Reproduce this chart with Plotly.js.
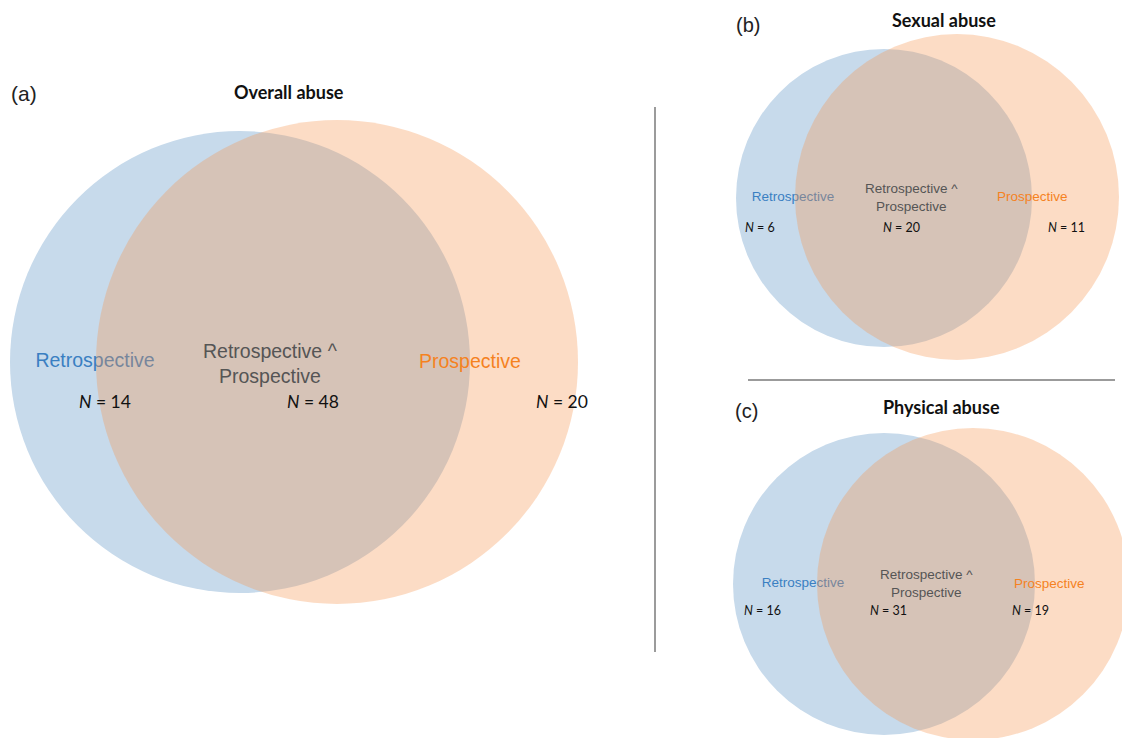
<!DOCTYPE html>
<html>
<head>
<meta charset="utf-8">
<script src="https://cdn.plot.ly/plotly-3.0.1.min.js"></script>
<style>
html,body{margin:0;padding:0;background:#fff;}
#chart{width:1122px;height:738px;}
</style>
</head>
<body>
<div id="chart"></div>
<script>
// ---- data ----
const panelTags = ['(a)', '(b)', '(c)'];
const panelTitles = ['Overall abuse', 'Sexual abuse', 'Physical abuse'];
const setLabels = ['Retrospective', 'Retrospective ^<br>Prospective', 'Prospective'];
const retroOnly = [14, 6, 16];
const bothCount = [48, 20, 31];
const prospOnly = [20, 11, 19];

// ---- layout geometry (pixel-like coordinates on hidden axes) ----
const geom = [
  { // (a)
    blue: {cx: 240, cy: 362, rx: 230, ry: 231},
    orange: {cx: 337, cy: 362, rx: 241, ry: 242},
    tag: [24, 93], title: [289, 92],
    lab: [[95, 362], [270, 363], [470, 361]],
    num: [[105, 401], [313, 401], [562, 401]],
    labSize: 19.5, numSize: 17.5, titleSize: 18, tagSize: 21
  },
  { // (b)
    blue: {cx: 884, cy: 198, rx: 148, ry: 149},
    orange: {cx: 957, cy: 197, rx: 162, ry: 163},
    tag: [748, 25], title: [944, 20],
    lab: [[793, 198], [911, 197], [1032, 196]],
    num: [[760, 227], [901, 227], [1066, 227]],
    labSize: 13.5, numSize: 12.5, titleSize: 18, tagSize: 20
  },
  { // (c)
    blue: {cx: 884, cy: 584, rx: 151, ry: 151},
    orange: {cx: 973, cy: 584, rx: 156, ry: 156},
    tag: [746, 411], title: [941, 407],
    lab: [[803, 584], [926, 583], [1049, 583]],
    num: [[762, 610], [888, 610], [1030, 610]],
    labSize: 13.5, numSize: 12.5, titleSize: 18, tagSize: 20
  }
];

const BLUE_FILL = 'rgb(199,218,235)';
const ORANGE_FILL = 'rgba(247,150,80,0.33)';
const BLUE_TXT = '#3a7fc2';
const ORANGE_TXT = '#f5821f';
const GRAY_TXT = '#555555';
const SANS = 'Liberation Sans, Arial, sans-serif';
const CAL = 'Lato, Carlito, sans-serif';

const shapes = [];
const annotations = [];
const traces = [];

geom.forEach((g, i) => {
  shapes.push({type: 'circle', xref: 'x', yref: 'y', layer: 'below',
    x0: g.blue.cx - g.blue.rx, x1: g.blue.cx + g.blue.rx,
    y0: g.blue.cy - g.blue.ry, y1: g.blue.cy + g.blue.ry,
    fillcolor: BLUE_FILL, line: {width: 0}});
  shapes.push({type: 'circle', xref: 'x', yref: 'y', layer: 'above',
    x0: g.orange.cx - g.orange.rx, x1: g.orange.cx + g.orange.rx,
    y0: g.orange.cy - g.orange.ry, y1: g.orange.cy + g.orange.ry,
    fillcolor: ORANGE_FILL, line: {width: 0}});

  // Retrospective label drawn as trace text (sits beneath the translucent orange circle)
  traces.push({type: 'scatter', mode: 'text', x: [g.lab[0][0]], y: [g.lab[0][1]],
    text: [setLabels[0]], textposition: 'middle center',
    textfont: {family: SANS, size: g.labSize, color: BLUE_TXT},
    hoverinfo: 'skip', showlegend: false, cliponaxis: false});

  annotations.push({x: g.lab[1][0], y: g.lab[1][1], xref: 'x', yref: 'y',
    text: setLabels[1], showarrow: false, xanchor: 'center', yanchor: 'middle',
    font: {family: SANS, size: g.labSize, color: GRAY_TXT}, align: 'center'});
  annotations.push({x: g.lab[2][0], y: g.lab[2][1], xref: 'x', yref: 'y',
    text: setLabels[2], showarrow: false, xanchor: 'center', yanchor: 'middle',
    font: {family: SANS, size: g.labSize, color: ORANGE_TXT}});

  const nums = [retroOnly[i], bothCount[i], prospOnly[i]];
  nums.forEach((n, k) => {
    annotations.push({x: g.num[k][0], y: g.num[k][1], xref: 'x', yref: 'y',
      text: '<i>N</i> = ' + n, showarrow: false, xanchor: 'center', yanchor: 'middle',
      font: {family: CAL, size: g.numSize, color: '#111'}});
  });

  annotations.push({x: g.tag[0], y: g.tag[1], xref: 'x', yref: 'y',
    text: panelTags[i], showarrow: false, xanchor: 'center', yanchor: 'middle',
    font: {family: SANS, size: g.tagSize, color: '#222'}});
  annotations.push({x: g.title[0], y: g.title[1], xref: 'x', yref: 'y',
    text: '<b>' + panelTitles[i] + '</b>', showarrow: false, xanchor: 'center', yanchor: 'middle',
    font: {family: CAL, size: g.titleSize, color: '#111'}});
});

// separators
shapes.push({type: 'line', xref: 'x', yref: 'y', x0: 655, x1: 655, y0: 107, y1: 652,
  line: {color: '#7a7a7a', width: 1.5}, layer: 'above'});
shapes.push({type: 'line', xref: 'x', yref: 'y', x0: 748, x1: 1115, y0: 380, y1: 380,
  line: {color: '#7a7a7a', width: 1.5}, layer: 'above'});

const layout = {
  width: 1122, height: 738,
  margin: {l: 0, r: 0, t: 0, b: 0, pad: 0},
  paper_bgcolor: '#ffffff', plot_bgcolor: '#ffffff',
  xaxis: {range: [0, 1122], visible: false, fixedrange: true},
  yaxis: {range: [738, 0], visible: false, fixedrange: true},
  showlegend: false,
  shapes: shapes,
  annotations: annotations
};

Plotly.newPlot('chart', traces, layout, {displayModeBar: false, staticPlot: true});
</script>
</body>
</html>
